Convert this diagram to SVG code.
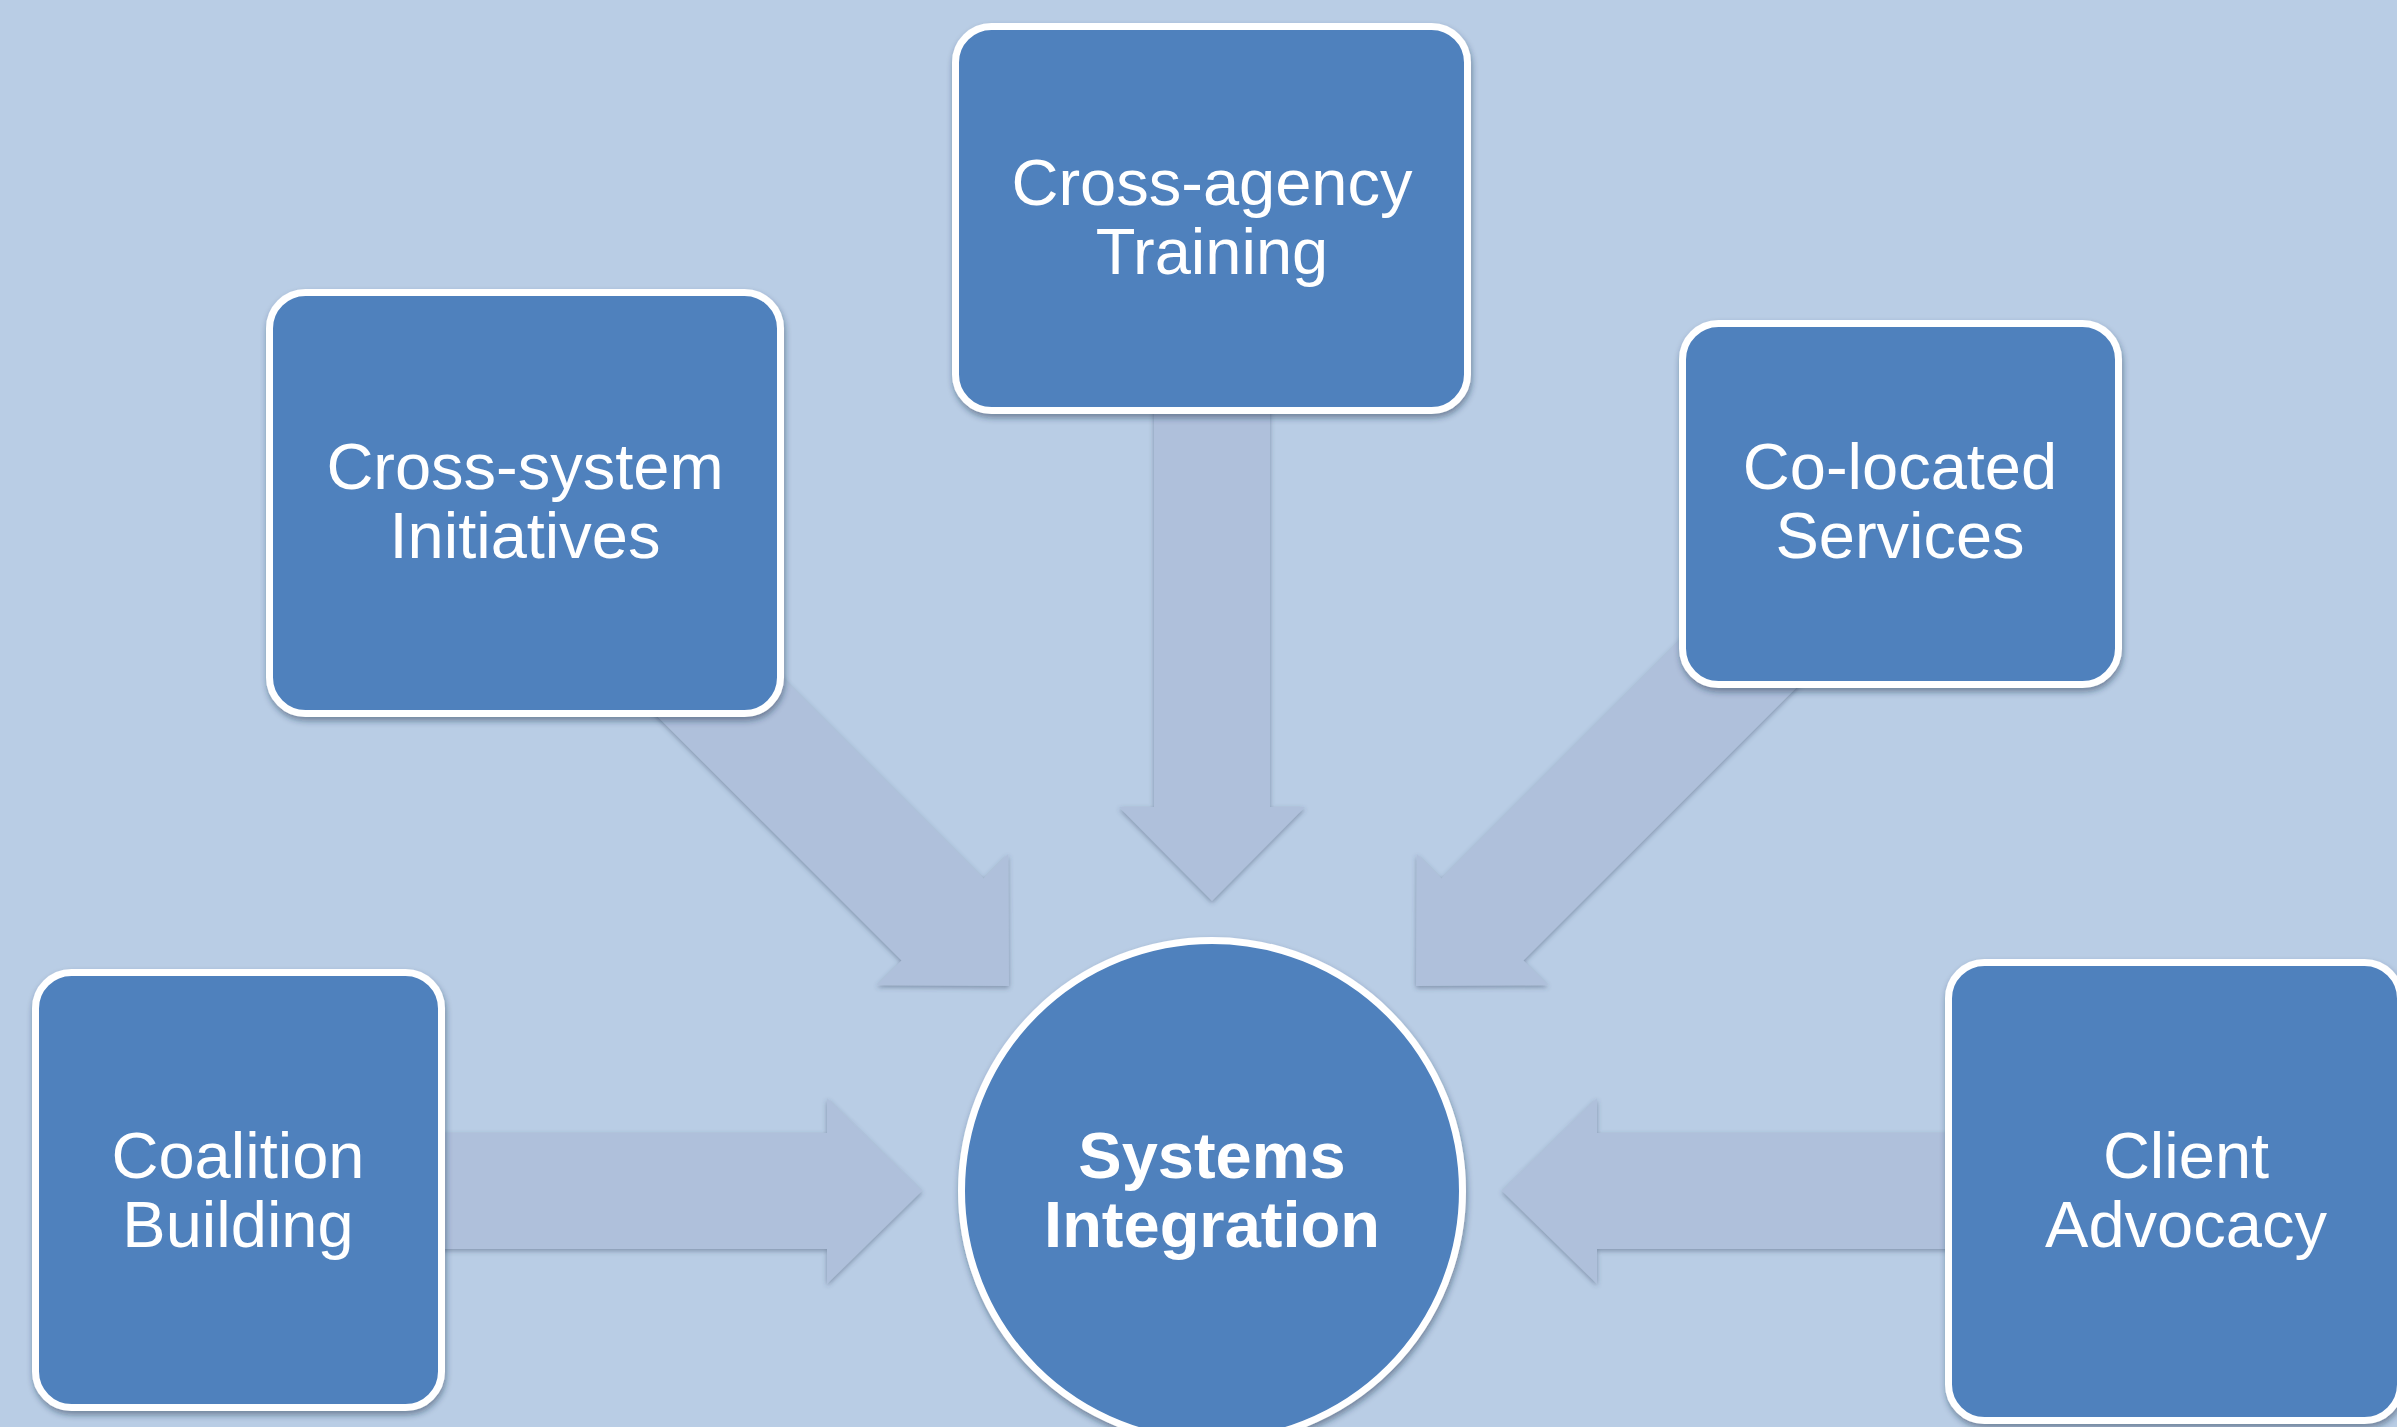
<svg xmlns="http://www.w3.org/2000/svg" width="2397" height="1427" viewBox="0 0 2397 1427">
<defs>
<style>
.box{fill:#4F81BD;stroke:#FFFFFF;stroke-width:7}
.arrow{fill:#AFC0DB}
.lbl{font-family:"Liberation Sans",Arial,sans-serif;font-size:65px;fill:#FFFFFF;text-anchor:middle}
.bold{font-weight:bold}
</style>
<filter id="boxShadow" x="-10%" y="-10%" width="120%" height="125%">
<feDropShadow dx="1" dy="4" stdDeviation="3" flood-color="#1F2F45" flood-opacity="0.45"/>
</filter>
<filter id="arrowShadow" x="-10%" y="-10%" width="120%" height="120%">
<feDropShadow dx="0" dy="2" stdDeviation="2.5" flood-color="#3A4A66" flood-opacity="0.45"/>
</filter>
</defs>
<rect x="0" y="0" width="2397" height="1427" fill="#B9CDE5"/>
<g id="connectors">
<g filter="url(#arrowShadow)"><path class="arrow" d="M1154,400 L1270,400 L1270,807 L1305,807 L1212,901 L1119,807 L1154,807 Z"/></g>
<g filter="url(#arrowShadow)"><path class="arrow" d="M430,1133 L827,1133 L827,1098 L922,1191 L827,1284 L827,1249 L430,1249 Z"/></g>
<g filter="url(#arrowShadow)"><path class="arrow" d="M1960,1133 L1597,1133 L1597,1098 L1502,1191 L1597,1284 L1597,1249 L1960,1249 Z"/></g>
<g filter="url(#arrowShadow)"><path class="arrow" transform="rotate(-45 1009 986)" d="M951,492 L1067,492 L1067,892 L1102,892 L1009,986 L916,892 L951,892 Z"/></g>
<g filter="url(#arrowShadow)"><path class="arrow" transform="rotate(45 1416 986)" d="M1358,492 L1474,492 L1474,892 L1509,892 L1416,986 L1323,892 L1358,892 Z"/></g>
</g>
<g id="node-cross-agency" filter="url(#boxShadow)">
<rect class="box" x="955.5" y="26.5" width="512" height="384" rx="36"/>
<text class="lbl" x="1212" y="205">Cross-agency</text>
<text class="lbl" x="1212" y="274">Training</text>
</g>
<g id="node-cross-system" filter="url(#boxShadow)">
<rect class="box" x="269.5" y="292.5" width="511" height="421" rx="36"/>
<text class="lbl" x="525" y="489">Cross-system</text>
<text class="lbl" x="525" y="558">Initiatives</text>
</g>
<g id="node-co-located" filter="url(#boxShadow)">
<rect class="box" x="1682.5" y="323.5" width="436" height="361" rx="36"/>
<text class="lbl" x="1900" y="489">Co-located</text>
<text class="lbl" x="1900" y="558">Services</text>
</g>
<g id="node-coalition" filter="url(#boxShadow)">
<rect class="box" x="35.5" y="972.5" width="406" height="435" rx="36"/>
<text class="lbl" x="238" y="1178">Coalition</text>
<text class="lbl" x="238" y="1247">Building</text>
</g>
<g id="node-client" filter="url(#boxShadow)">
<rect class="box" x="1948.5" y="962.5" width="452" height="458" rx="36"/>
<text class="lbl" x="2186" y="1178">Client</text>
<text class="lbl" x="2186" y="1247">Advocacy</text>
</g>
<g id="node-systems-integration" filter="url(#boxShadow)">
<circle class="box" cx="1212" cy="1191" r="250.5"/>
<text class="lbl bold" x="1212" y="1178">Systems</text>
<text class="lbl bold" x="1212" y="1247">Integration</text>
</g>
</svg>
